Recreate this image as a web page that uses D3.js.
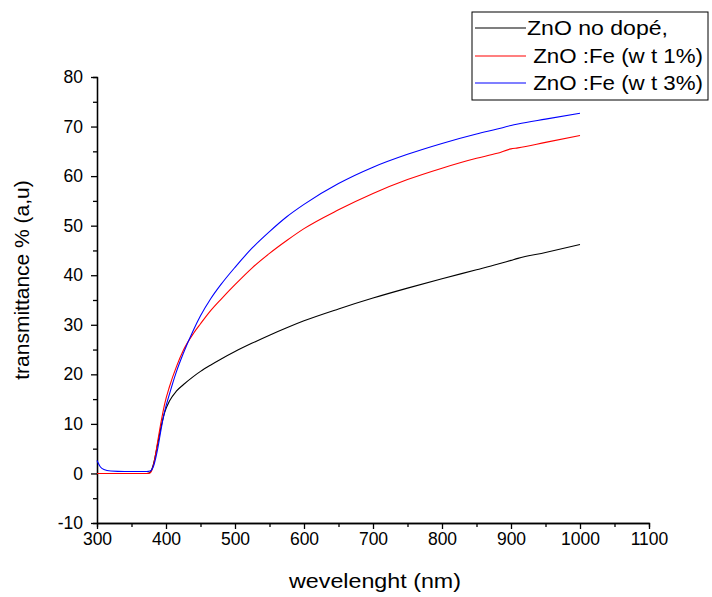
<!DOCTYPE html>
<html>
<head>
<meta charset="utf-8">
<script src="https://cdn.jsdelivr.net/npm/d3@7"></script>
<style>
  body { margin: 0; background: #fff; }
  svg { display: block; font-family: "Liberation Sans", Arial, sans-serif; }
  .axis path, .axis line { stroke: #000; stroke-width: 1.3; }
  .axis text { font-size: 17.5px; fill: #000; }
</style>
</head>
<body>
<svg id="chart" width="712" height="597"></svg>
<script>
// wavelength (nm) shared by the three spectra
var wavelengths = [300, 305, 310, 320, 340, 360, 372, 377, 382, 388, 393, 398, 405, 415, 425, 440, 450, 465, 480, 500,
                   525, 550, 575, 600, 650, 700, 750, 800, 850, 880, 900, 910, 950, 1000];

var znoUndoped = [0, 0, 0, 0, 0, 0, 0, 0.2, 2, 6, 9.5, 12.3, 14.6, 16.6, 17.9, 19.6, 20.6, 21.9, 23.1, 24.6,
                  26.3, 27.9, 29.4, 30.8, 33.2, 35.4, 37.4, 39.3, 41.1, 42.2, 43.0, 43.4, 44.6, 46.2];
var znoFe1 = [0, 0, 0, 0, 0, 0, 0, 0.1, 1.8, 6.5, 10.5, 14, 17.5, 21.5, 24.8, 28.3, 30.2, 32.9, 35.2, 38.1,
              41.5, 44.4, 47.0, 49.4, 53.2, 56.5, 59.3, 61.6, 63.6, 64.6, 65.5, 65.7, 66.8, 68.2];
var znoFe3 = [2.6, 1.3, 0.8, 0.5, 0.4, 0.4, 0.4, 0.5, 1.5, 5, 9, 12.5, 16, 20.5, 24.2, 29, 31.8, 35.3, 38.2, 41.6,
              45.5, 48.8, 51.8, 54.3, 58.5, 61.8, 64.4, 66.6, 68.5, 69.5, 70.2, 70.5, 71.5, 72.7];

var seriesNames = ["ZnO no dopé,", " ZnO :Fe (w t 1%)", " ZnO :Fe (w t 3%)"];
var seriesColors = ["#000000", "#ff0000", "#0000ff"];
var seriesValues = [znoUndoped, znoFe1, znoFe3];

var xTicks = [300, 400, 500, 600, 700, 800, 900, 1000, 1100];
var yTicks = [-10, 0, 10, 20, 30, 40, 50, 60, 70, 80];

var margin = {left: 97, top: 77, right: 63, bottom: 74};
var width = 712, height = 597;

var svg = d3.select("#chart");

var x = d3.scaleLinear().domain([300, 1100]).range([margin.left, width - margin.right]);
var y = d3.scaleLinear().domain([-10, 80]).range([height - margin.bottom, margin.top]);

// minor ticks first, then majors with labels
svg.append("g")
    .attr("class", "axis")
    .attr("transform", "translate(0," + y(-10) + ")")
    .call(d3.axisBottom(x).tickValues(d3.range(350, 1100, 100)).tickSize(4).tickFormat(""));

svg.append("g")
    .attr("class", "axis")
    .attr("transform", "translate(0," + y(-10) + ")")
    .call(d3.axisBottom(x).tickValues(xTicks).tickSize(6).tickSizeOuter(0).tickPadding(4)
        .tickFormat(function (d) { return String(d); }));

svg.append("g")
    .attr("class", "axis")
    .attr("transform", "translate(" + x(300) + ",0)")
    .call(d3.axisLeft(y).tickValues(d3.range(-5, 80, 10)).tickSize(4).tickFormat(""));

svg.append("g")
    .attr("class", "axis")
    .attr("transform", "translate(" + x(300) + ",0)")
    .call(d3.axisLeft(y).tickValues(yTicks).tickSize(6).tickSizeOuter(0).tickPadding(8)
        .tickFormat(function (d) { return String(d); }));

// axis titles
svg.append("text")
    .attr("x", (x(300) + x(1100)) / 2 + 2)
    .attr("y", 588)
    .attr("text-anchor", "middle")
    .attr("font-size", "20px")
    .attr("textLength", 172)
    .attr("lengthAdjust", "spacingAndGlyphs")
    .text("wevelenght (nm)");

svg.append("text")
    .attr("transform", "translate(29," + 280 + ") rotate(-90)")
    .attr("text-anchor", "middle")
    .attr("font-size", "21px")
    .text("transmittance % (a,u)");

// curves
var line = d3.line()
    .x(function (d, i) { return x(wavelengths[i]); })
    .y(function (d) { return y(d); })
    .curve(d3.curveMonotoneX);

svg.append("g").selectAll("path")
    .data(seriesValues)
    .enter()
    .append("path")
    .attr("d", line)
    .attr("fill", "none")
    .attr("stroke", function (d, i) { return seriesColors[i]; })
    .attr("stroke-width", 1.1);

// legend
var legend = svg.append("g");
legend.append("rect")
    .attr("x", 472).attr("y", 12)
    .attr("width", 236).attr("height", 88)
    .attr("fill", "#fff")
    .attr("stroke", "#000")
    .attr("stroke-width", 1);

var legendRows = [28, 56, 83];
var textWidths = [141, 176, 176];
seriesNames.forEach(function (name, i) {
    legend.append("line")
        .attr("x1", 475).attr("x2", 526)
        .attr("y1", legendRows[i]).attr("y2", legendRows[i])
        .attr("stroke", seriesColors[i])
        .attr("stroke-width", 1.1);
    legend.append("text")
        .attr("x", 527)
        .attr("y", legendRows[i] + 7)
        .attr("font-size", "20px")
        .attr("textLength", textWidths[i])
        .attr("lengthAdjust", "spacingAndGlyphs")
        .attr("xml:space", "preserve")
        .style("white-space", "pre")
        .text(name);
});
</script>
</body>
</html>
